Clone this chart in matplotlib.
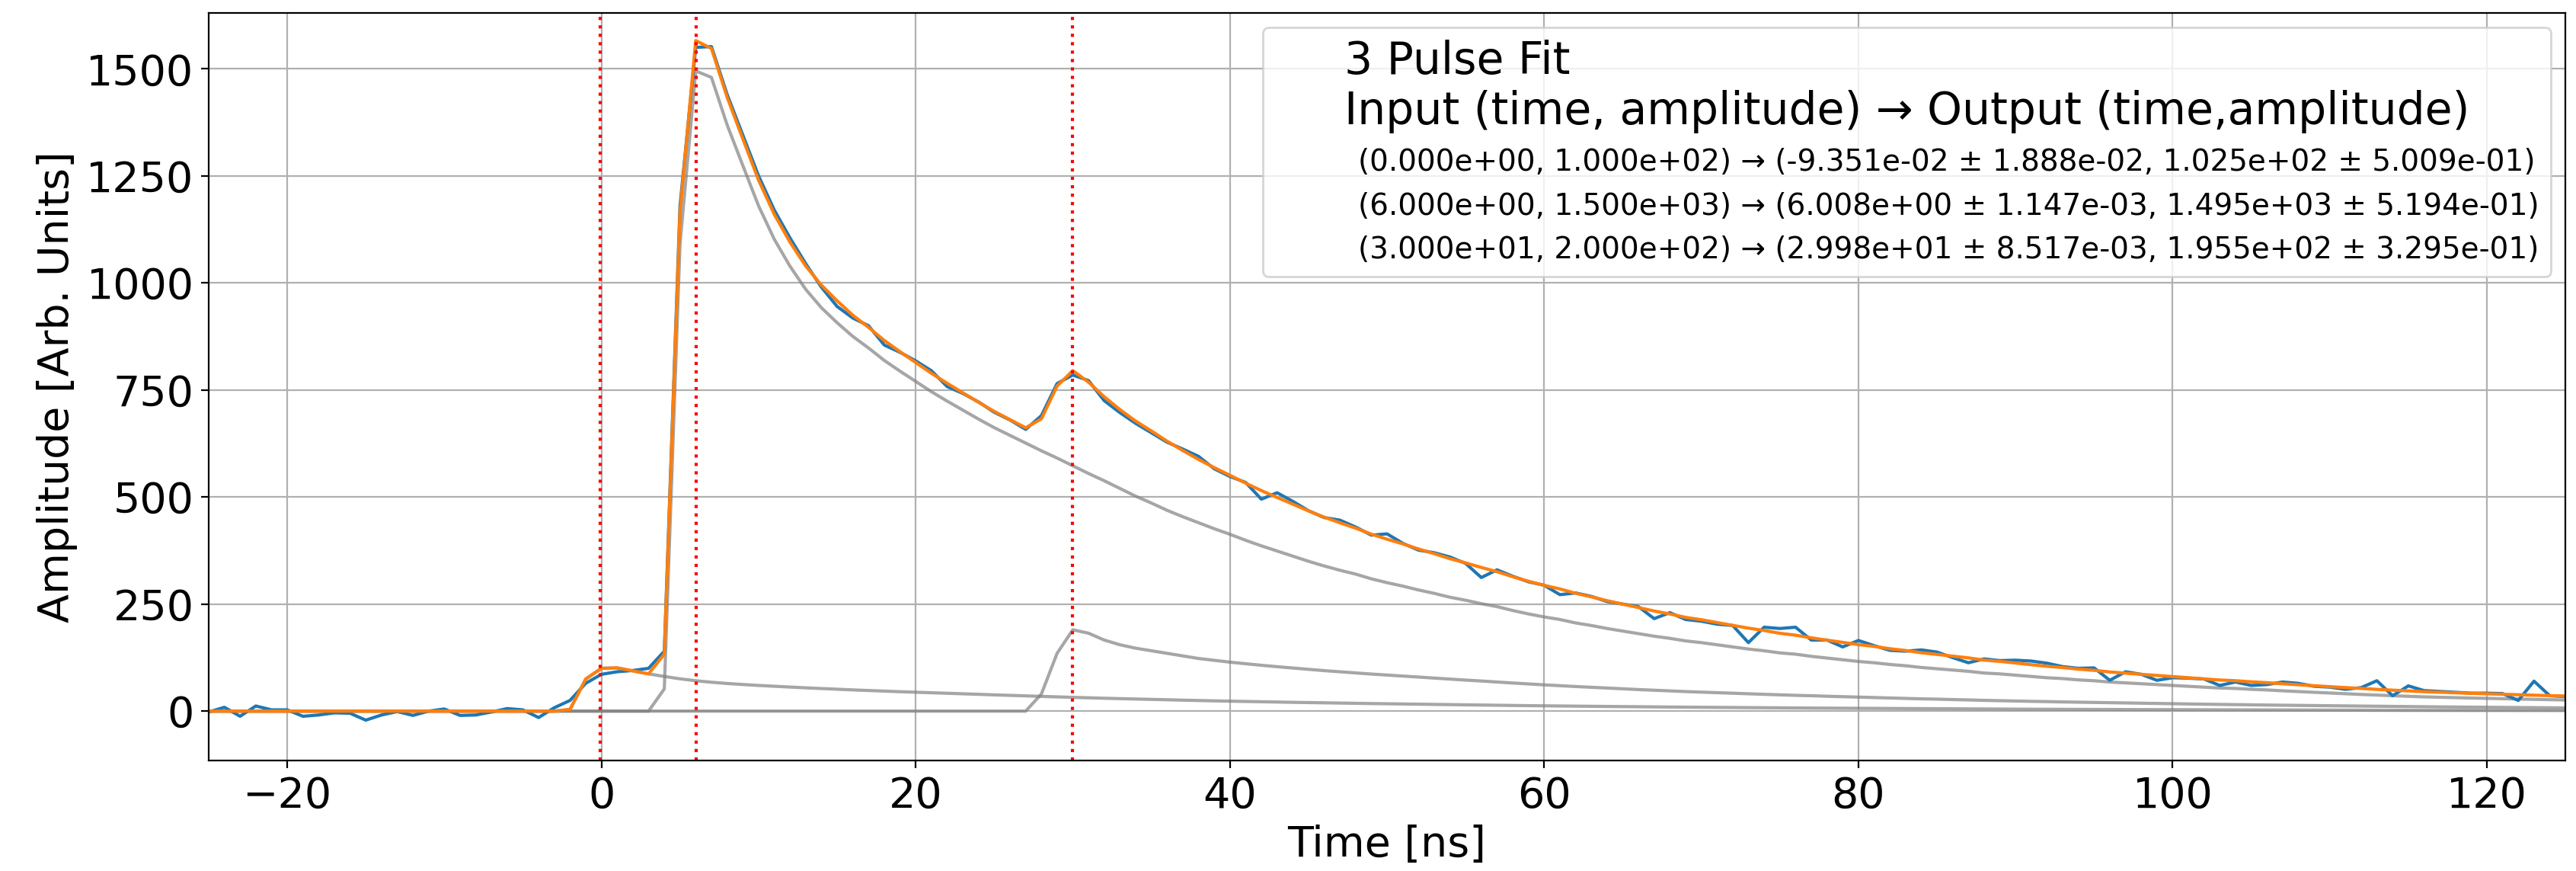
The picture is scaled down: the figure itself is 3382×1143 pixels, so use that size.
import matplotlib
matplotlib.use("Agg")
import matplotlib.pyplot as plt
from matplotlib.lines import Line2D
import numpy as np

# time grid, one sample per ns from -25 to 125
timeNs = list(range(-25, 126))

# measured waveform
dataAmp = [
	-2, 9, -12, 12, 3, 3, -12, -9, -4, -5,            # -25 .. -16
	-21, -9, -1, -10, 0, 5, -10, -9, -2, 6,           # -15 .. -6
	3, -15, 8, 25, 65, 86, 92, 95, 100, 140,          # -5 .. 4
	1180, 1550, 1552, 1440, 1345, 1250, 1170, 1105, 1045, 990,   # 5 .. 14
	945, 918, 900, 855, 838, 818, 795, 758, 742, 722,  # 15 .. 24
	698, 680, 658, 690, 765, 785, 772, 725, 697, 672,  # 25 .. 34
	650, 628, 612, 595, 566, 548, 534, 495, 510, 490,  # 35 .. 44
	468, 452, 446, 430, 411, 414, 392, 376, 370, 360,  # 45 .. 54
	345, 312, 330, 315, 302, 294, 272, 276, 268, 256,  # 55 .. 64
	250, 244, 216, 230, 214, 210, 203, 200, 160, 196,  # 65 .. 74
	193, 196, 166, 166, 150, 165, 153, 142, 140, 143,  # 75 .. 84
	138, 125, 113, 122, 118, 119, 117, 112, 104, 100,  # 85 .. 94
	101, 72, 92, 86, 72, 78, 77, 75, 60, 68,          # 95 .. 104
	60, 62, 68, 65, 58, 56, 51, 55, 71, 36,           # 105 .. 114
	59, 48, 46, 44, 42, 42, 41, 25, 70, 36,           # 115 .. 124
	34,                                               # 125
]

# fitted pulse components
pulse1 = [
	0, 0, 0, 0, 0, 0, 0, 0, 0, 0,
	0, 0, 0, 0, 0, 0, 0, 0, 0, 0,
	0, 0, 0,                                          # -25 .. -3
	4, 75, 100, 101, 94, 87, 81, 75.5, 71, 67.5,      # -2 .. 7
	64.6, 62.2, 60, 58.1, 56.2, 54.4, 52.8, 51.1, 49.6, 48.2,
	46.7, 45.4, 44.2, 42.9, 41.7, 40.5, 39.3, 38, 36.9, 35.7,
	34.4, 33.3, 32.2, 31.2, 30.1, 29.2, 28.3, 27.4, 26.4, 25.6,
	24.8, 24, 23.3, 22.6, 21.9, 21.2, 20.6, 20, 19.4, 18.9,
	18.2, 17.7, 17.2, 16.7, 16.1, 15.6, 15.1, 14.7, 14.1, 13.7,
	13.2, 12.8, 12.4, 12, 11.7, 11.3, 11, 10.7, 10.3, 9.9,
	9.6, 9.3, 9.1, 8.8, 8.5, 8.3, 8, 7.7, 7.5, 7.2,
	7, 6.8, 6.6, 6.3, 6.1, 5.9, 5.7, 5.5, 5.4, 5.2,
	5, 4.8, 4.7, 4.5, 4.4, 4.3, 4.1, 4, 3.9, 3.7,
	3.6, 3.5, 3.4, 3.3, 3.1, 3, 2.9, 2.8, 2.7, 2.6,
	2.5, 2.4, 2.3, 2.2, 2.2, 2.1, 2.1, 2, 1.9, 1.9,
	1.8, 1.8, 1.7, 1.7, 1.7, 1.6, 1.6, 1.5,           # 118 .. 125
]

pulse2 = [
	0, 0, 0, 0, 0, 0, 0, 0, 0, 0,
	0, 0, 0, 0, 0, 0, 0, 0, 0, 0,
	0, 0, 0, 0, 0, 0, 0, 0, 0,                        # -25 .. 3
	52, 1091, 1495, 1480, 1369, 1274, 1180, 1102, 1039, 985,   # 4 .. 13
	942, 907, 875, 848, 819, 794, 770, 746, 724, 703,
	682, 662, 644, 626, 608, 591, 573, 555, 538, 520,
	502, 486, 469, 454, 440, 426, 413, 399, 386, 374,
	362, 350, 339, 329, 320, 309, 300, 292, 283, 275,
	266, 259, 251, 244, 235, 227, 220, 214, 206, 200,
	193, 187, 181, 175, 170, 164, 160, 155, 150, 145,
	141, 136, 133, 128, 124, 120, 116, 113, 109, 106,
	102, 99, 96, 93, 89, 87, 84, 81, 78, 76,
	73, 71, 68, 66, 64, 62, 60, 58, 56, 54,
	53, 51, 49.5, 47.5, 45.7, 44, 42.3, 40.7, 39, 37.5,
	36, 34.7, 33.3, 32.4, 31.5, 30.6, 29.9, 29, 28.3, 27.5,
	26.8, 26,                                         # 124 .. 125
]

pulse3 = [
	0, 0, 0, 0, 0, 0, 0, 0, 0, 0,
	0, 0, 0, 0, 0, 0, 0, 0, 0, 0,
	0, 0, 0, 0, 0, 0, 0, 0, 0, 0,
	0, 0, 0, 0, 0, 0, 0, 0, 0, 0,
	0, 0, 0, 0, 0, 0, 0, 0, 0, 0,
	0, 0, 0,                                          # -25 .. 27
	40, 135, 190, 182, 166, 155, 147, 141, 135, 129,  # 28 .. 37
	123, 118.7, 114.4, 110.8, 107.1, 103.8, 100.7, 97.6, 94.6, 91.9,
	89.1, 86.6, 84.3, 81.9, 79.6, 77.2, 74.9, 72.5, 70.4, 68,
	65.7, 63.5, 61.4, 59.4, 57.5, 55.7, 54, 52.2, 50.4, 48.9,
	47.3, 45.7, 44.4, 43, 41.8, 40.5, 39.3, 38.1, 36.9, 36,
	34.8, 33.8, 32.8, 31.9, 30.7, 29.7, 28.7, 28, 27, 26.2,
	25.2, 24.4, 23.7, 22.9, 22.3, 21.5, 20.9, 20.3, 19.6, 19,
	18.4, 17.8, 17.3, 16.8, 16.2, 15.7, 15.2, 14.7, 14.3, 13.8,
	13.4, 12.9, 12.5, 12.1, 11.7, 11.3, 10.9, 10.6, 10.2, 9.9,
	9.6, 9.2, 8.9, 8.6, 8.4, 8.1, 7.8, 7.6,           # 118 .. 125
]

# fitted pulse times (red markers)
fitTimes = [-0.09351, 6.008, 29.98]

legendTitle = "3 Pulse Fit\nInput (time, amplitude) \u2192 Output (time,amplitude)"
legendRows = [
	"(0.000e+00, 1.000e+02) \u2192 (-9.351e-02 \u00b1 1.888e-02, 1.025e+02 \u00b1 5.009e-01)",
	"(6.000e+00, 1.500e+03) \u2192 (6.008e+00 \u00b1 1.147e-03, 1.495e+03 \u00b1 5.194e-01)",
	"(3.000e+01, 2.000e+02) \u2192 (2.998e+01 \u00b1 8.517e-03, 1.955e+02 \u00b1 3.295e-01)",
]


def makePlot():
	fig = plt.figure(figsize=(16.91, 5.715), dpi=200)
	ax = fig.add_subplot(111)
	fig.subplots_adjust(left=0.081, right=0.9959, bottom=0.127, top=0.9854)

	fitTotal = np.array(pulse1) + np.array(pulse2) + np.array(pulse3)

	for comp in [pulse1, pulse2, pulse3]:
		ax.plot(timeNs, comp, color='gray', alpha=0.7, linewidth=1.5)
	ax.plot(timeNs, dataAmp, color='C0', linewidth=1.5)
	ax.plot(timeNs, fitTotal, color='C1', linewidth=1.5)

	for t in fitTimes:
		ax.axvline(t, color='red', linestyle=':', linewidth=1.5)

	ax.set_xlim(-25, 125)
	ax.set_ylim(-115, 1631)
	ax.set_xticks([-20, 0, 20, 40, 60, 80, 100, 120])
	ax.set_yticks([0, 250, 500, 750, 1000, 1250, 1500])
	ax.tick_params(labelsize=20)
	ax.grid(True)
	ax.set_xlabel("Time [ns]", fontsize=20)
	ax.set_ylabel("Amplitude [Arb. Units]", fontsize=20)

	blank = [Line2D([], [], color='none') for _ in legendRows]
	ax.legend(blank, legendRows, title=legendTitle, fontsize=14,
		title_fontsize=21, loc='upper right')

	fig.savefig("out.png", dpi=200)


if __name__ == '__main__':
	makePlot()
